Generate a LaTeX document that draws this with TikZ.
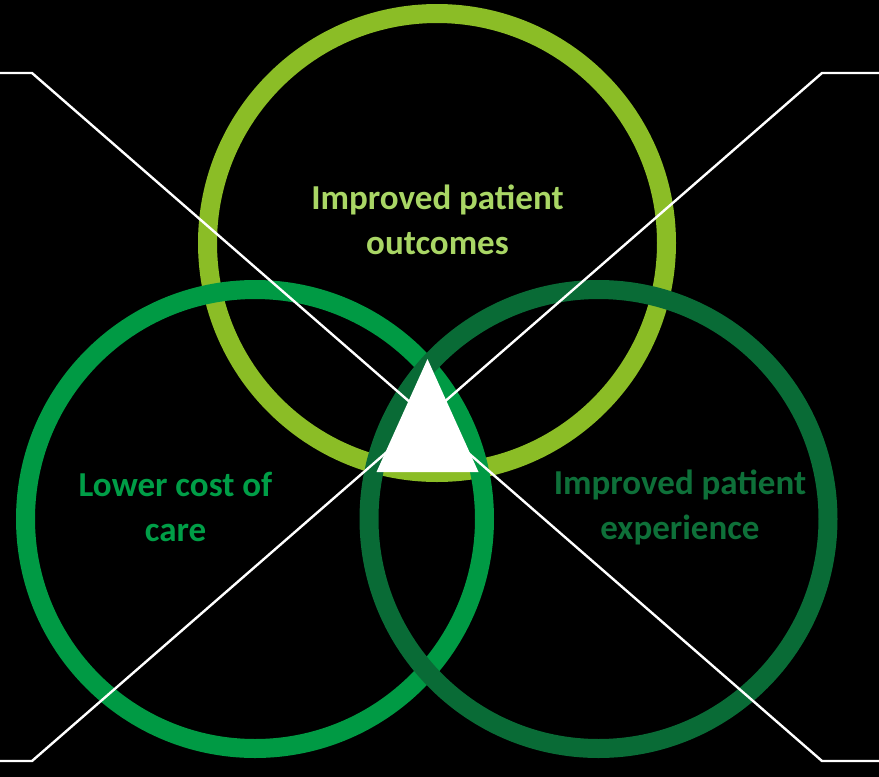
\documentclass[tikz,border=0pt]{standalone}
\usepackage{fontspec}
\setmainfont{Carlito}
\definecolor{lgreen}{HTML}{8BBD26}
\definecolor{lgreentext}{HTML}{A9D665}
\definecolor{mgreen}{HTML}{009A44}
\definecolor{mgreentext}{HTML}{009E47}
\definecolor{dgreen}{HTML}{096B36}
\definecolor{dgreentext}{HTML}{0E7039}
\tikzset{
  ring/.style={line width=19pt},
  label/.style={align=center, font=\fontsize{35}{45}\selectfont\bfseries, inner sep=0pt},
  xline/.style={white, line width=2.4pt},
}
\begin{document}
\begin{tikzpicture}[x=1pt,y=-1pt]
\fill[black] (0,0) rectangle (879,777);
\useasboundingbox (0,0) rectangle (879,777);
% circle centres
\coordinate (ctop) at (437,243);
\coordinate (cleft) at (255,519);
\coordinate (cright) at (598.5,519);
% rings
\draw[ring, lgreen] (ctop) circle[radius=229.5];
\draw[ring, mgreen] (cleft) circle[radius=229.5];
\draw[ring, dgreen] (cright) circle[radius=229.5];
% cross lines
\coordinate (a0) at (0,73);
\coordinate (a1) at (32,73);
\coordinate (a2) at (822,761);
\coordinate (a3) at (879,761);
\coordinate (b0) at (879,73);
\coordinate (b1) at (822,73);
\coordinate (b2) at (32,761);
\coordinate (b3) at (0,761);
\draw[xline] (a0) -- (a1) -- (a2) -- (a3);
\draw[xline] (b0) -- (b1) -- (b2) -- (b3);
% triangle
\coordinate (tA) at (427.5,359);
\coordinate (tL) at (376.5,472);
\coordinate (tR) at (478.5,472);
\fill[white] (tA) -- (tL) -- (tR) -- cycle;
% labels
\node[label, text=lgreentext] (outcomes) at (437.5,220) {Improved patient\\outcomes};
\node[label, text=mgreentext] (cost) at (175.5,507) {Lower cost of\\care};
\node[label, text=dgreentext] (experience) at (680,507) {Improved patient\\experience};
\end{tikzpicture}
\end{document}
